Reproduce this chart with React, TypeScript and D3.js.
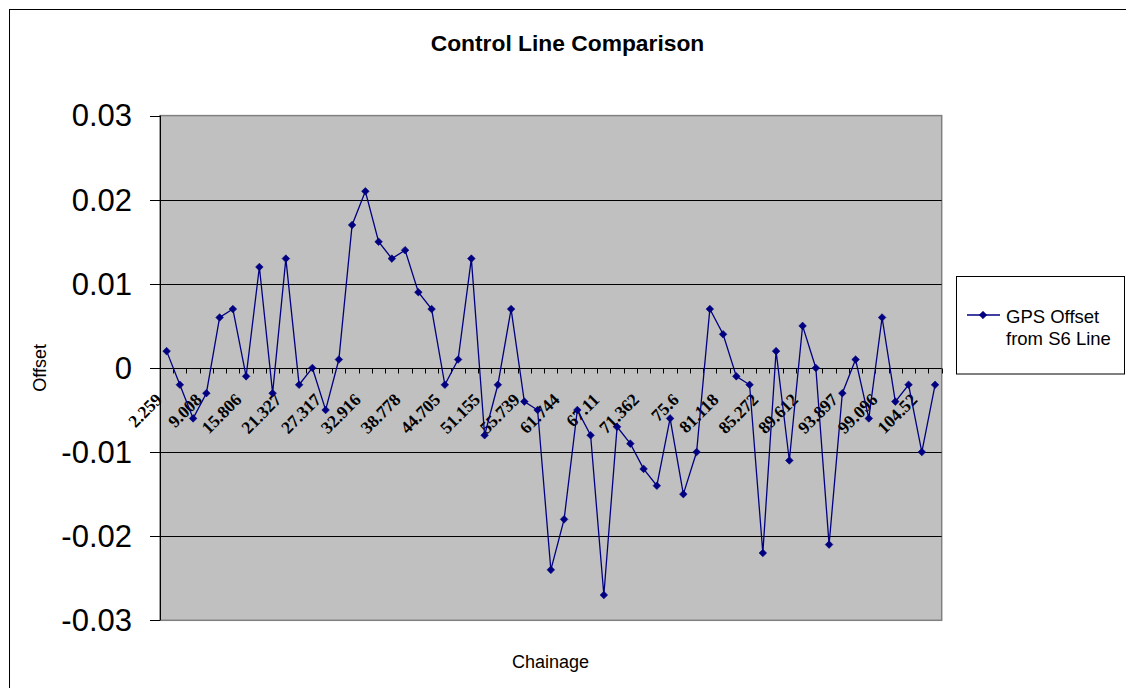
import React from "react";
import * as d3 from "d3";

// GPS offset from S6 line, one value per chainage station (59 stations)
const offsets = [
  0.002, -0.002, -0.006, -0.003, 0.006, 0.007, -0.001, 0.012, -0.003, 0.013,
  -0.002, 0, -0.005, 0.001, 0.017, 0.021, 0.015, 0.013, 0.014, 0.009,
  0.007, -0.002, 0.001, 0.013, -0.008, -0.002, 0.007, -0.004, -0.005, -0.024,
  -0.018, -0.005, -0.008, -0.027, -0.007, -0.009, -0.012, -0.014, -0.006, -0.015,
  -0.01, 0.007, 0.004, -0.001, -0.002, -0.022, 0.002, -0.011, 0.005, 0,
  -0.021, -0.003, 0.001, -0.006, 0.006, -0.004, -0.002, -0.01, -0.002,
];

// Chainage labels printed on every third station
const chainageLabels = [
  "2.259", "9.008", "15.806", "21.327", "27.317", "32.916", "38.778",
  "44.705", "51.155", "55.739", "61.744", "67.11", "71.362", "75.6",
  "81.118", "85.272", "89.612", "93.897", "99.096", "104.52",
];
const labelEvery = 3;

const yTicks = [0.03, 0.02, 0.01, 0, -0.01, -0.02, -0.03];
const gridValues = [0.02, 0.01, -0.01, -0.02];

const seriesName = ["GPS Offset", "from S6 Line"];
const titleText = "Control Line Comparison";

const W = 1126;
const H = 688;
const plot = { left: 160, right: 941.7, top: 115.6, bottom: 620.3 };
const navy = "#000080";
const sans = "Arial, 'Liberation Sans', sans-serif";
const serif = "'Times New Roman', 'Liberation Serif', serif";

function Diamond({ cx, cy, r = 3.8 }: { cx: number; cy: number; r?: number }) {
  return (
    <path
      d={`M${cx},${cy - r}L${cx + r},${cy}L${cx},${cy + r}L${cx - r},${cy}Z`}
      fill={navy}
      stroke={navy}
      strokeWidth={0.6}
    />
  );
}

export default function App() {
  const idx = d3.range(offsets.length);
  const x = d3
    .scaleBand<number>()
    .domain(idx)
    .range([plot.left, plot.right])
    .paddingInner(0)
    .paddingOuter(0);
  const bw = x.bandwidth();
  const cx = (i: number) => (x(i) as number) + bw / 2;
  const y = d3.scaleLinear().domain([-0.03, 0.03]).range([plot.bottom, plot.top]);

  const line = d3
    .line<number>()
    .x((_, i) => cx(i))
    .y((d) => y(d));

  const y0 = Math.round(y(0)) + 0.5;

  return (
    <svg
      width={W}
      height={H}
      style={{ position: "absolute", left: 0, top: 0, display: "block" }}
    >
      <rect x={0} y={0} width={W} height={H} fill="#fff" />
      {/* chart frame */}
      <rect x={9.5} y={9.5} width={W + 20} height={H + 20} fill="none" stroke="#000" strokeWidth={1} />

      <text
        x={567.5}
        y={51}
        textAnchor="middle"
        fontFamily={sans}
        fontWeight="bold"
        fontSize={22.8}
        fill="#000"
      >
        {titleText}
      </text>

      {/* plot area */}
      <rect
        x={plot.left}
        y={plot.top}
        width={plot.right - plot.left}
        height={plot.bottom - plot.top}
        fill="#C0C0C0"
        stroke="#808080"
        strokeWidth={1.5}
      />

      {/* horizontal gridlines */}
      {gridValues.map((v) => {
        const gy = Math.round(y(v)) + 0.5;
        return (
          <line key={v} x1={plot.left} x2={plot.right} y1={gy} y2={gy} stroke="#000" strokeWidth={1} />
        );
      })}

      {/* value axis */}
      <line x1={plot.left + 0.5} x2={plot.left + 0.5} y1={plot.top} y2={plot.bottom} stroke="#000" strokeWidth={1} />
      {yTicks.map((v) => {
        const ty = Math.round(y(v)) + 0.5;
        return (
          <g key={v}>
            <line x1={150} x2={plot.left} y1={ty} y2={ty} stroke="#000" strokeWidth={1} />
            <text
              x={132}
              y={y(v) + 10.8}
              textAnchor="end"
              fontFamily={sans}
              fontSize={31}
              fill="#000"
            >
              {v}
            </text>
          </g>
        );
      })}

      {/* category axis at zero */}
      <line x1={plot.left} x2={plot.right} y1={y0} y2={y0} stroke="#000" strokeWidth={1} />
      {d3.range(offsets.length + 1).map((k) => {
        const tx = Math.round(plot.left + k * bw) + 0.5;
        return <line key={k} x1={tx} x2={tx} y1={y0} y2={y0 + 5} stroke="#000" strokeWidth={1} />;
      })}
      {chainageLabels.map((lab, j) => {
        const i = j * labelEvery;
        const lx = (x(i) as number) - 1;
        const ly = y0 + 28;
        return (
          <text
            key={lab}
            x={lx}
            y={ly}
            transform={`rotate(-45 ${lx} ${ly})`}
            textAnchor="end"
            dominantBaseline="central"
            fontFamily={serif}
            fontWeight="bold"
            fontSize={17.5}
            fill="#000"
          >
            {lab}
          </text>
        );
      })}

      {/* series */}
      <path d={line(offsets) || ""} fill="none" stroke={navy} strokeWidth={1.3} />
      {offsets.map((v, i) => (
        <Diamond key={i} cx={cx(i)} cy={y(v)} />
      ))}

      {/* axis titles */}
      <text
        x={550.5}
        y={668}
        textAnchor="middle"
        fontFamily={sans}
        fontSize={18}
        fill="#000"
      >
        Chainage
      </text>
      <text
        transform={`translate(46 ${y(0)}) rotate(-90)`}
        textAnchor="middle"
        fontFamily={sans}
        fontSize={18}
        fill="#000"
      >
        Offset
      </text>

      {/* legend */}
      <rect x={956.5} y={276.5} width={168} height={97.5} fill="#fff" stroke="#000" strokeWidth={1} />
      <line x1={967} x2={1000} y1={315} y2={315} stroke={navy} strokeWidth={1.3} />
      <Diamond cx={983} cy={315} />
      <text x={1006} y={323} fontFamily={sans} fontSize={18.5} fill="#000">
        {seriesName[0]}
      </text>
      <text x={1006} y={345} fontFamily={sans} fontSize={18.5} fill="#000">
        {seriesName[1]}
      </text>
    </svg>
  );
}
